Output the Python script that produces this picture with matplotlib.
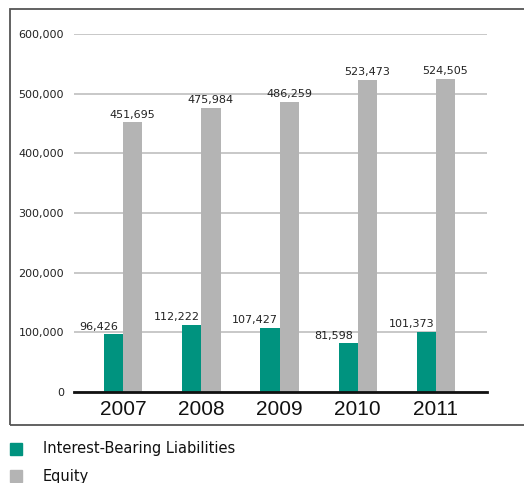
import matplotlib.pyplot as plt
import matplotlib.patches as mpatches
import numpy as np

plt.rcParams['font.family'] = ['DejaVu Sans']

# Yearly balances
years = ['2007', '2008', '2009', '2010', '2011']
liabilities = [96426, 112222, 107427, 81598, 101373]
equity = [451695, 475984, 486259, 523473, 524505]

green = '#00937f'
grey = '#b4b4b4'

fig = plt.figure(figsize=(5.24, 4.83), dpi=100)
ax = fig.add_axes([0.141, 0.1884, 0.788, 0.7412])

x = np.arange(len(years))
w = 0.245
ax.bar(x - w / 2, liabilities, w, color=green, zorder=3)
ax.bar(x + w / 2, equity, w, color=grey, zorder=3)

# value labels over the bars
for i in range(len(years)):
    ax.annotate(f"{liabilities[i]:,}", (x[i] - w / 2 - 0.19, liabilities[i]),
                xytext=(0, 2), textcoords='offset points',
                ha='center', va='bottom', fontsize=8, color='#222222')
    ax.annotate(f"{equity[i]:,}", (x[i] + w / 2, equity[i]),
                xytext=(0, 2), textcoords='offset points',
                ha='center', va='bottom', fontsize=8, color='#222222')

ax.set_xlim(-0.63, 4.65)
ax.set_ylim(0, 600000)
ax.set_yticks(np.arange(0, 600001, 100000))
ax.set_yticklabels([f"{v:,}" for v in range(0, 600001, 100000)])
ax.set_xticks(x)
ax.set_xticklabels(years, fontsize=15, family='Liberation Sans')
ax.tick_params(axis='y', length=0, pad=7, labelsize=8, labelcolor='#222222')
ax.tick_params(axis='x', length=0, pad=6, labelcolor='#111111')

ax.yaxis.grid(True, color='#c4c4c4', linewidth=1.3, zorder=0)
for s in ['top', 'right', 'left']:
    ax.spines[s].set_visible(False)
ax.spines['bottom'].set_linewidth(2)
ax.spines['bottom'].set_color('#111111')
ax.spines['bottom'].set_zorder(4)

# outer frame around the plot
frame = mpatches.Rectangle((0.019, 0.12), 1.2, 0.861, transform=fig.transFigure,
                           fill=False, edgecolor='#555555', linewidth=1.3)
fig.patches.append(frame)

# unit note, sitting mostly above the top edge
fig.text(0.002, 1.005, "(Millions of Yen)", fontsize=10, va='baseline',
         color='#333333')

# legend
fig.patches.append(mpatches.Rectangle((10 / 524, 1 - 455 / 483), 12 / 524, 12 / 483,
                                      transform=fig.transFigure, color=green))
fig.patches.append(mpatches.Rectangle((10 / 524, 1 - 482 / 483), 12 / 524, 12 / 483,
                                      transform=fig.transFigure, color=grey))
fig.text(43 / 524, 1 - 449 / 483, "Interest-Bearing Liabilities", fontsize=10.5,
         va='center', color='#111111')
fig.text(43 / 524, 1 - 476 / 483, "Equity", fontsize=10.5, va='center',
         color='#111111')

fig.savefig('out.png', dpi=100)
